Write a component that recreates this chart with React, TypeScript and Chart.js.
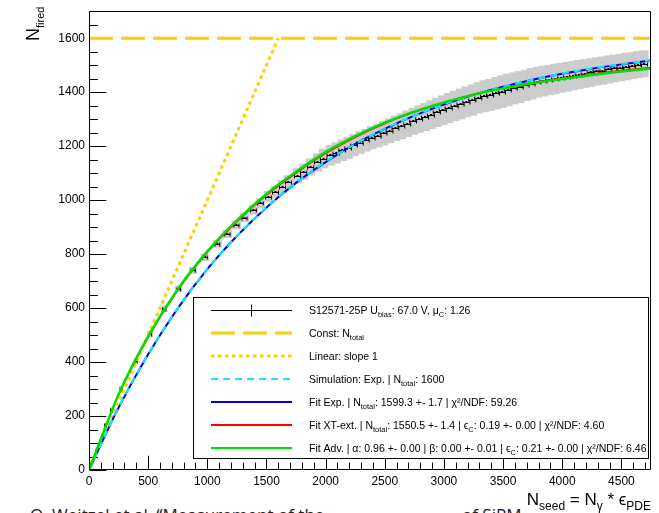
import React, { useEffect, useRef } from "react";
import { Chart, registerables } from "chart.js";
Chart.register(...registerables);

// ---------------- data ----------------
const curveX = [0, 250, 500, 750, 1000, 1250, 1500, 1750, 2000, 2250, 2500, 2750, 3000, 3250, 3500, 3750, 4000, 4250, 4500, 4750];
const simulationExp = [0, 231, 429, 599, 744, 867, 973, 1064, 1142, 1208, 1265, 1313, 1355, 1390, 1420, 1446, 1469, 1488, 1504, 1518];
const fitExp = [0, 231, 429, 599, 744, 867, 973, 1064, 1141, 1208, 1264, 1313, 1354, 1390, 1420, 1446, 1468, 1487, 1503, 1517];
const fitXText = [0, 278, 492, 666, 806, 920, 1018, 1100, 1173, 1233, 1284, 1326, 1361, 1391, 1415, 1435, 1452, 1467, 1480, 1491];
const fitAdv = [0, 280, 495, 670, 810, 925, 1023, 1105, 1178, 1237, 1287, 1328, 1362, 1391, 1414, 1433, 1449, 1464, 1477, 1488];
const linearX = [0, 1600];
const linearY = [0, 1600];
const constX = [0, 4750];
const constY = [1600, 1600];

const dataX = [20, 60, 140, 190, 271, 398, 517, 636, 758, 880, 980, 1085, 1170, 1246, 1314, 1390, 1449, 1517, 1576, 1636, 1686, 1763, 1814, 1873, 1932, 1983, 2040, 2090,
  2140, 2190, 2240, 2290, 2340, 2390, 2440, 2490, 2540, 2590, 2640, 2690, 2740, 2790, 2840, 2890, 2940, 2990,
  3040, 3090, 3140, 3190, 3240, 3290, 3340, 3390, 3440, 3490, 3540, 3590, 3640, 3690, 3740, 3790,
  3840, 3890, 3940, 3990, 4040, 4090, 4140, 4190, 4240, 4290, 4340, 4390, 4440, 4490, 4540, 4590, 4640, 4690];
const dataY = [24, 72, 165, 222, 300, 405, 505, 597, 672, 740, 788, 838, 875, 908, 935, 964, 988, 1013, 1031, 1050, 1066, 1090, 1105, 1123, 1140, 1154, 1166, 1175,
  1185, 1194, 1204, 1213, 1222, 1231, 1239, 1248, 1257, 1266, 1274, 1283, 1292, 1300, 1308, 1317, 1325, 1333,
  1341, 1349, 1356, 1364, 1371, 1379, 1385, 1390, 1396, 1402, 1408, 1414, 1419, 1425, 1431, 1437,
  1441, 1445, 1449, 1453, 1457, 1461, 1465, 1469, 1473, 1477, 1480, 1484, 1488, 1491, 1495, 1498, 1502, 1505];
const statX = [3, 4, 6, 7, 8, 10, 12, 14, 16, 18, 20, 20, 22, 22, 22, 24, 24, 24, 25, 25, 25, 26, 26, 26, 27, 27, 28, 28,
  28, 28, 28, 28, 28, 28, 29, 29, 29, 29, 29, 29, 29, 29, 30, 30, 30, 30,
  30, 30, 30, 30, 30, 30, 30, 30, 30, 30, 30, 30, 30, 30, 30, 30,
  30, 30, 30, 30, 30, 30, 30, 30, 30, 30, 30, 30, 30, 30, 30, 30, 30, 30];
const sysX = [10, 10, 12, 14, 16, 20, 24, 28, 32, 34, 36, 38, 40, 40, 40, 40, 40, 40, 40, 40, 40, 40, 40, 40, 40, 40, 40, 40,
  40, 40, 40, 40, 40, 40, 40, 40, 40, 40, 40, 40, 40, 40, 40, 40, 40, 40,
  40, 40, 40, 40, 40, 40, 40, 40, 40, 40, 40, 40, 40, 40, 40, 40,
  40, 40, 40, 40, 40, 40, 40, 40, 40, 40, 40, 40, 40, 40, 40, 40, 40, 40];
const sysY = [10, 10, 10, 10, 11, 11, 12, 12, 12, 13, 14, 14, 15, 16, 17, 18, 19, 21, 22, 24, 26, 28, 30, 32, 34, 36, 38, 39,
  40, 41, 41, 42, 42, 43, 44, 45, 46, 47, 48, 49, 50, 51, 52, 53, 54, 55,
  56, 56, 57, 57, 58, 58, 59, 59, 60, 60, 60, 59, 59, 58, 58, 57,
  57, 56, 56, 55, 55, 54, 54, 53, 53, 52, 52, 52, 51, 51, 51, 50, 50, 50];

const xTicks = [0, 500, 1000, 1500, 2000, 2500, 3000, 3500, 4000, 4500];
const yTicks = [0, 200, 400, 600, 800, 1000, 1200, 1400, 1600];
const X_MAX = 4750;
const Y_MAX = 1700;

type Run = [string, number];
const legendLabels: Run[][] = [
  [["S12571-25P U", 0], ["bias", 1], [": 67.0 V, μ", 0], ["C", 1], [": 1.26", 0]],
  [["Const: N", 0], ["total", 1]],
  [["Linear: slope 1", 0]],
  [["Simulation: Exp. | N", 0], ["total", 1], [": 1600", 0]],
  [["Fit Exp. | N", 0], ["total", 1], [": 1599.3 +- 1.7 | χ²/NDF: 59.26", 0]],
  [["Fit XT-ext. | N", 0], ["total", 1], [": 1550.5 +- 1.4 | ϵ", 0], ["C", 1], [": 0.19 +- 0.00 | χ²/NDF: 4.60", 0]],
  [["Fit Adv. | α: 0.96 +- 0.00 | β: 0.00 +- 0.01 | ϵ", 0], ["C", 1], [": 0.21 +- 0.00 | χ²/NDF: 6.46", 0]],
];
const xTitle: Run[] = [["N", 0], ["seed", 1], [" = N", 0], ["γ", 1], [" * ϵ", 0], ["PDE", 1]];
const yTitle: Run[] = [["N", 0], ["fired", 1]];

// ---------------- styles ----------------
const FONT = '"Liberation Sans", Arial, Helvetica, sans-serif';
const GOLD = "#ffcc00";
const CYAN = "#00f0ff";
const BLUE = "#0000dd";
const RED = "#ff0000";
const GREEN = "#00e000";

function runsWidth(ctx: CanvasRenderingContext2D, runs: Run[], size: number, subSize: number) {
  let w = 0;
  for (const [t, s] of runs) {
    ctx.font = `${s ? subSize : size}px ${FONT}`;
    w += ctx.measureText(t).width;
  }
  return w;
}
function drawRuns(ctx: CanvasRenderingContext2D, runs: Run[], x: number, y: number, size: number, subSize: number, subDy: number) {
  let cx = x;
  for (const [t, s] of runs) {
    ctx.font = `${s ? subSize : size}px ${FONT}`;
    ctx.fillText(t, cx, y + (s ? subDy : 0));
    cx += ctx.measureText(t).width;
  }
  return cx;
}

const rootPlugin = {
  id: "rootStyle",
  beforeDatasetsDraw(chart: any) {
    const { ctx, chartArea: ca } = chart;
    const xs = chart.scales.x, ys = chart.scales.y;
    ctx.save();
    // frame + inward ticks (drawn under the curves)
    const L = Math.round(ca.left) + 0.5, R = Math.round(ca.right) - 0.5;
    const T = Math.round(ca.top) + 0.5, B = Math.round(ca.bottom) - 0.5;
    ctx.strokeStyle = "#000";
    ctx.lineWidth = 1;
    const w = ca.right - ca.left, h = ca.bottom - ca.top;
    const yMajor = 0.03 * w, xMajor = 0.03 * h;
    ctx.beginPath();
    for (let v = 0; v <= Y_MAX; v += 50) {
      const py = Math.round(ys.getPixelForValue(v)) + 0.5;
      const len = v % 200 === 0 ? yMajor : yMajor / 2;
      ctx.moveTo(L, py); ctx.lineTo(L + len, py);
    }
    for (let v = 0; v <= X_MAX; v += 100) {
      const px = Math.round(xs.getPixelForValue(v)) + 0.5;
      const len = v % 500 === 0 ? xMajor : xMajor / 2;
      ctx.moveTo(px, B); ctx.lineTo(px, B - len);
    }
    ctx.stroke();

    ctx.beginPath();
    ctx.rect(ca.left, ca.top, ca.right - ca.left, ca.bottom - ca.top);
    ctx.clip();
    ctx.fillStyle = "#cccccc";
    for (let i = 0; i < dataX.length; i++) {
      const x0 = xs.getPixelForValue(dataX[i] - sysX[i]);
      const x1 = xs.getPixelForValue(dataX[i] + sysX[i]);
      const y0 = ys.getPixelForValue(dataY[i] + sysY[i]);
      const y1 = ys.getPixelForValue(dataY[i] - sysY[i]);
      ctx.fillRect(x0, y0, x1 - x0, y1 - y0);
    }
    ctx.strokeStyle = "#000";
    ctx.fillStyle = "#000";
    ctx.lineWidth = 1;
    for (let i = 0; i < dataX.length; i++) {
      const px = xs.getPixelForValue(dataX[i]);
      const py = Math.round(ys.getPixelForValue(dataY[i])) + 0.5;
      const e0 = xs.getPixelForValue(dataX[i] - statX[i]);
      const e1 = xs.getPixelForValue(dataX[i] + statX[i]);
      ctx.beginPath();
      ctx.moveTo(e0, py); ctx.lineTo(e1, py);
      ctx.moveTo(e0, py - 2); ctx.lineTo(e0, py + 2);
      ctx.moveTo(e1, py - 2); ctx.lineTo(e1, py + 2);
      ctx.stroke();
      ctx.fillRect(px - 1, py - 1.5, 2, 2);
    }
    ctx.restore();
  },
  afterDatasetsDraw(chart: any) {
    const { ctx, chartArea: ca } = chart;
    ctx.save();
    const L = Math.round(ca.left) + 0.5, R = Math.round(ca.right) - 0.5;
    const T = Math.round(ca.top) + 0.5, B = Math.round(ca.bottom) - 0.5;
    ctx.strokeStyle = "#000";
    ctx.lineWidth = 1;
    ctx.beginPath();
    ctx.moveTo(L, T); ctx.lineTo(R, T); ctx.lineTo(R, B);
    ctx.moveTo(L, T); ctx.lineTo(L, B); ctx.lineTo(R, B);
    ctx.stroke();

    // legend box
    const lx0 = 193.5, ly0 = 297.5, lx1 = R - 2, ly1 = 458.5;
    ctx.fillStyle = "#fff";
    ctx.fillRect(lx0, ly0, lx1 - lx0, ly1 - ly0);
    ctx.strokeRect(lx0, ly0, lx1 - lx0, ly1 - ly0);
    const sx0 = 211, sx1 = 292;
    const rowY = (i: number) => 310 + 23 * i;
    ctx.lineCap = "butt";
    const y0 = rowY(0) + 0.5;
    ctx.strokeStyle = "#000"; ctx.lineWidth = 1; ctx.setLineDash([]);
    ctx.beginPath(); ctx.moveTo(sx0, y0); ctx.lineTo(sx1, y0);
    ctx.moveTo(251.5, y0 - 6); ctx.lineTo(251.5, y0 + 6); ctx.stroke();
    const seg = (i: number, color: string, lw: number, dash: number[]) => {
      const yy = rowY(i);
      ctx.strokeStyle = color; ctx.lineWidth = lw; ctx.setLineDash(dash);
      ctx.beginPath(); ctx.moveTo(sx0, yy); ctx.lineTo(sx1, yy); ctx.stroke();
    };
    seg(1, GOLD, 3, [24, 8]);
    seg(2, GOLD, 3, [3.5, 3.5]);
    seg(3, CYAN, 2, [7, 5]);
    seg(4, BLUE, 2, []);
    seg(5, RED, 2, []);
    seg(6, GREEN, 2, []);
    ctx.setLineDash([]);
    ctx.fillStyle = "#000";
    ctx.textBaseline = "alphabetic";
    ctx.textAlign = "left";
    legendLabels.forEach((runs, i) => {
      drawRuns(ctx, runs, 309, rowY(i) + 4, 10.5, 7.5, 3);
    });

    // x title
    const tw = runsWidth(ctx, xTitle, 17, 12);
    drawRuns(ctx, xTitle, ca.right - tw, 505, 17, 12, 5);
    // y title
    ctx.translate(39, 41);
    ctx.rotate(-Math.PI / 2);
    drawRuns(ctx, yTitle, 0, 0, 18, 11, 5);
    ctx.restore();
  },
};

function line(xv: number[], yv: number[]) {
  return xv.map((x, i) => ({ x, y: yv[i] }));
}

export default function App() {
  const ref = useRef<HTMLCanvasElement>(null);
  useEffect(() => {
    const canvas = ref.current!;
    const chart = new Chart(canvas, {
      type: "line",
      data: {
        datasets: [
          { label: "Fit Adv.", data: line(curveX, fitAdv), borderColor: GREEN, borderWidth: 2.5, pointRadius: 0, cubicInterpolationMode: "monotone", order: 0 },
          { label: "Fit XT-ext.", data: line(curveX, fitXText), borderColor: RED, borderWidth: 1.5, pointRadius: 0, cubicInterpolationMode: "monotone", order: 1 },
          { label: "Simulation: Exp.", data: line(curveX, simulationExp), borderColor: CYAN, borderWidth: 2, borderDash: [7, 5], pointRadius: 0, cubicInterpolationMode: "monotone", order: 2 },
          { label: "Fit Exp.", data: line(curveX, fitExp), borderColor: BLUE, borderWidth: 2, pointRadius: 0, cubicInterpolationMode: "monotone", order: 3 },
          { label: "Linear", data: line(linearX, linearY), borderColor: GOLD, borderWidth: 3, borderDash: [3.5, 3.5], pointRadius: 0, order: 4 },
          { label: "Const", data: line(constX, constY), borderColor: GOLD, borderWidth: 3, borderDash: [24, 8], pointRadius: 0, order: 5 },
        ] as any,
      },
      options: {
        animation: false,
        responsive: false,
        devicePixelRatio: 1,
        events: [],
        layout: { padding: { left: 0, right: 8, top: 10, bottom: 0 } },
        plugins: { legend: { display: false }, tooltip: { enabled: false } },
        scales: {
          x: {
            type: "linear",
            min: 0,
            max: X_MAX,
            grid: { display: false, drawTicks: false },
            border: { display: false },
            afterBuildTicks: (s: any) => { s.ticks = xTicks.map((v) => ({ value: v })); },
            afterFit: (s: any) => { s.height = 43; },
            ticks: { color: "#000", font: { family: FONT, size: 12 }, padding: 4, maxRotation: 0, autoSkip: false, includeBounds: false, callback: (v: any) => String(v) },
          },
          y: {
            type: "linear",
            min: 0,
            max: Y_MAX,
            grid: { display: false, drawTicks: false },
            border: { display: false },
            afterBuildTicks: (s: any) => { s.ticks = yTicks.map((v) => ({ value: v })); },
            afterFit: (s: any) => { s.width = 89; },
            ticks: { color: "#000", font: { family: FONT, size: 12 }, padding: 4, autoSkip: false, includeBounds: false, callback: (v: any) => String(v) },
          },
        },
      } as any,
      plugins: [rootPlugin],
    });
    return () => chart.destroy();
  }, []);
  return (
    <div style={{ position: "fixed", left: 0, top: 0, width: 659, height: 513, background: "#fff", overflow: "hidden" }}>
      <div style={{ position: "absolute", left: 30, top: 506, font: '17px "Open Sans", sans-serif', lineHeight: "17px", color: "#222", whiteSpace: "nowrap" }}>
        O. Weitzel et al. “Measurement of the
      </div>
      <div style={{ position: "absolute", left: 462, top: 506, font: '17px "Open Sans", sans-serif', lineHeight: "17px", color: "#222", whiteSpace: "nowrap" }}>
        of SiPM
      </div>
      <canvas ref={ref} width={659} height={513} style={{ position: "absolute", left: 0, top: 0, display: "block" }} />
    </div>
  );
}
